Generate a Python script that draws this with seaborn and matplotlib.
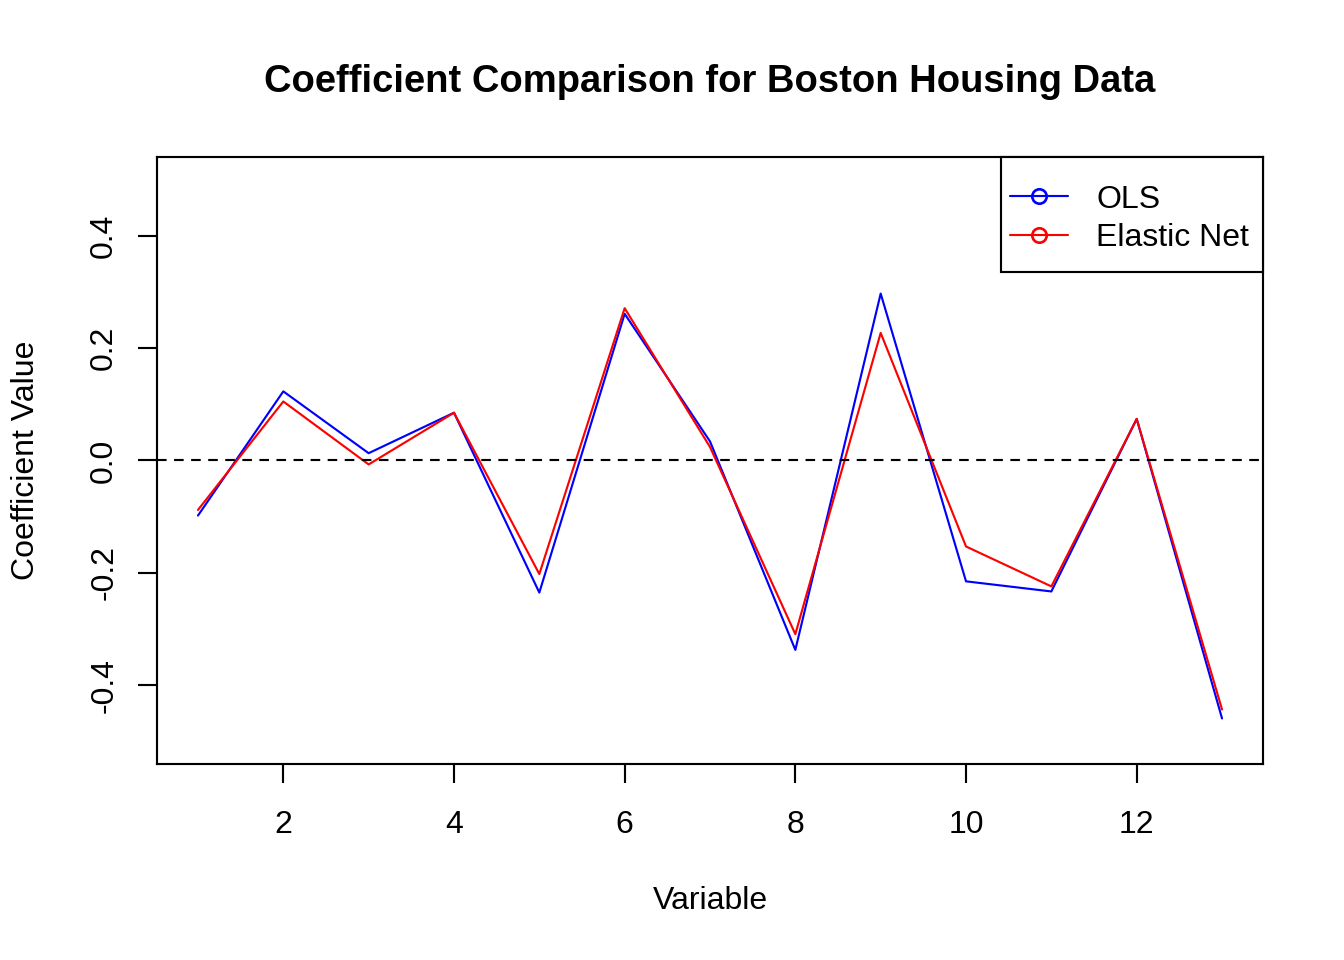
import matplotlib
matplotlib.use("Agg")
import matplotlib.pyplot as plt
from matplotlib.lines import Line2D
from matplotlib.patches import Rectangle
import seaborn as sns
import pandas as pd

variables = list(range(1, 14))
ols = [-0.098, 0.123, 0.013, 0.085, -0.235, 0.261, 0.034, -0.337, 0.297, -0.215, -0.233, 0.074, -0.459]
enet = [-0.088, 0.105, -0.007, 0.085, -0.202, 0.271, 0.024, -0.309, 0.227, -0.153, -0.224, 0.074, -0.443]
series_names = ["OLS", "Elastic Net"]
colors = {"OLS": "blue", "Elastic Net": "red"}
xticks = [2, 4, 6, 8, 10, 12]
yticks = [-0.4, -0.2, 0.0, 0.2, 0.4]

df = pd.DataFrame({
    "Variable": variables * 2,
    "Coefficient": ols + enet,
    "Model": ["OLS"] * len(ols) + ["Elastic Net"] * len(enet),
})

sns.set_style("ticks")
plt.rcParams["font.family"] = ["Liberation Sans", "DejaVu Sans"]
for k in ["text.color", "axes.labelcolor", "xtick.color", "ytick.color", "axes.edgecolor"]:
    plt.rcParams[k] = "black"

W, H = 1344, 960
L, R, T, B = 157, 1263, 157, 764
fig = plt.figure(figsize=(7, 5), dpi=192)
ax = fig.add_axes([L/W, 1 - B/H, (R-L)/W, (B-T)/H])

sns.lineplot(data=df, x="Variable", y="Coefficient", hue="Model",
             hue_order=series_names, palette=colors, ax=ax, legend=False,
             linewidth=0.8, estimator=None, sort=False)
ax.axhline(0, color="black", linestyle=(0, (4.5, 3.5)), linewidth=0.8)

ax.set_xlim(0.52, 13.48)
ax.set_ylim(-0.54, 0.54)
ax.set_xticks(xticks)
ax.set_xticklabels([str(t) for t in xticks], fontsize=12)
ax.set_yticks(yticks)
ax.set_yticklabels([f"{t:.1f}" for t in yticks], fontsize=12, rotation=90, va="center")
ax.tick_params(axis="both", direction="out", length=7.2, width=0.8, color="black")
ax.tick_params(axis="x", pad=10)
ax.tick_params(axis="y", pad=7)
for s in ax.spines.values():
    s.set_visible(True)
    s.set_color("black")
    s.set_linewidth(0.8)

ax.set_xlabel("Variable", fontsize=12, labelpad=17.3)
ax.set_ylabel("Coefficient Value", fontsize=12, labelpad=18)
fig.text(((L + R) / 2) / W, 1 - 82.5/H, "Coefficient Comparison for Boston Housing Data",
         ha="center", va="center", fontsize=14.3, fontweight="bold")

# legend box (R-style, flush with top-right corner)
bx0, bx1, by0, by1 = 1001, 1263, 157, 272
ax.add_patch(Rectangle(((bx0 - L)/(R - L), (B - by1)/(B - T)),
                       (bx1 - bx0)/(R - L), (by1 - by0)/(B - T),
                       transform=ax.transAxes, facecolor="white", edgecolor="black",
                       linewidth=0.8, zorder=4, clip_on=False))
handles = [Line2D([0], [0], color=colors[n], linewidth=0.8, marker="o",
                  markerfacecolor="none", markeredgecolor=colors[n], markersize=5.4)
           for n in series_names]
leg = ax.legend(handles, series_names, loc="center left",
                bbox_to_anchor=((1010 - L)/(R - L), (B - 219)/(B - T)),
                borderaxespad=0, borderpad=0, frameon=False,
                fontsize=12, handlelength=1.8, handletextpad=0.9,
                labelspacing=0.28)
leg.set_zorder(5)

fig.savefig("out.png", dpi=192)
